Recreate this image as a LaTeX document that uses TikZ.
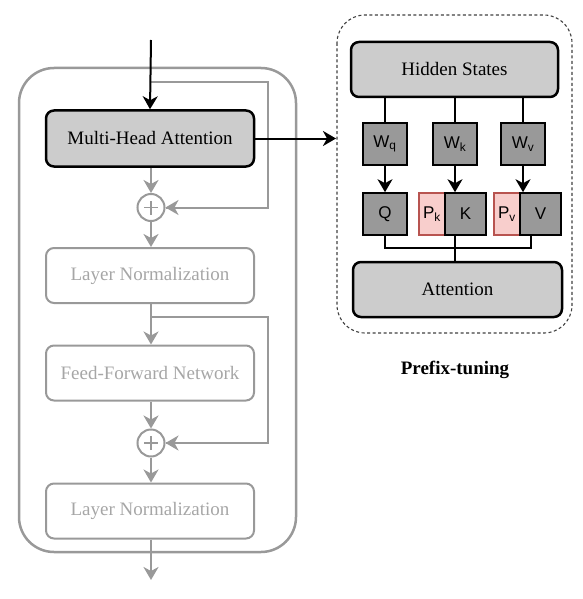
\documentclass[tikz,border=0pt]{standalone}
\usepackage{fontspec}
\setmainfont{Liberation Serif}
\setsansfont{Liberation Sans}
\usetikzlibrary{arrows.meta}
\definecolor{lg}{HTML}{999999}
\definecolor{lgt}{HTML}{A6A6A6}
\definecolor{boxfill}{HTML}{CCCCCC}
\definecolor{wfill}{HTML}{999999}
\definecolor{pfill}{HTML}{F8CECC}
\definecolor{pdraw}{HTML}{B85450}
\tikzset{
  big/.style={font=\fontsize{19}{22}\selectfont},
  blk/.style={big, draw=black, line width=2.5pt, fill=boxfill, rounded corners=8pt, minimum width=208pt, minimum height=56pt, inner sep=0pt},
  gbox/.style={big, draw=lg, text=lgt, line width=2pt, rounded corners=8pt, minimum width=208pt, minimum height=55pt, inner sep=0pt},
  wbox/.style={draw=black, line width=1.6pt, fill=wfill, minimum width=43pt, minimum height=42pt, inner sep=0pt, font=\sffamily\fontsize{17}{20}\selectfont},
  pbox/.style={draw=pdraw, line width=1.6pt, fill=pfill, minimum width=26pt, minimum height=42pt, inner sep=0pt, font=\sffamily\fontsize{17}{20}\selectfont},
  plusc/.style={draw=lg, line width=2pt, circle, minimum size=27pt, inner sep=0pt},
  garr/.style={draw=lg, line width=2pt, -{Stealth[length=13pt,width=15pt,inset=4pt]}},
  gline/.style={draw=lg, line width=2pt},
  karr/.style={draw=black, line width=2pt, -{Stealth[length=13pt,width=15pt,inset=4pt]}},
  kline/.style={draw=black, line width=1.7pt},
}
\begin{document}
\begin{tikzpicture}[x=1pt,y=-1pt]
\useasboundingbox (0,0) rectangle (582,599);
% left encoder block
\draw[lg, line width=2.5pt, rounded corners=35pt] (19,68) rectangle (296,552);
\node[blk] (mha) at (150,138.5) {Multi-Head Attention};
\node[plusc] (p1) at (151,207.5) {};
\node[gbox] (ln1) at (150,275.5) {Layer Normalization};
\node[gbox] (ffn) at (150,373) {Feed-Forward Network};
\node[plusc] (p2) at (151,443) {};
\node[gbox] (ln2) at (150,511) {Layer Normalization};
\foreach \p in {p1,p2}{
  \draw[lg, line width=1.8pt] ([xshift=-7pt]\p.center) -- ([xshift=7pt]\p.center);
  \draw[lg, line width=1.8pt] ([yshift=-7pt]\p.center) -- ([yshift=7pt]\p.center);
}
\coordinate (in) at (151,40);
\coordinate (r1) at (151,82);
\coordinate (r1c) at (268,82);
\coordinate (r2) at (151,317);
\coordinate (r2c) at (268,317);
\coordinate (out) at (151,580);
\draw[gline] (r1) -- (r1c) |- (p1.east);
\draw[garr] (r1c |- p1) -- (p1.east);
\draw[gline] (r2) -- (r2c) |- (p2.east);
\draw[garr] (r2c |- p2) -- (p2.east);
\draw[karr] (in) -- (mha.north);
\draw[garr] (mha.south -| p1) -- (p1.north);
\draw[garr] (p1.south) -- (ln1.north -| p1);
\draw[garr] (ln1.south -| p1) -- (ffn.north -| p1);
\draw[garr] (ffn.south -| p2) -- (p2.north);
\draw[garr] (p2.south) -- (ln2.north -| p2);
\draw[garr] (ln2.south -| p2) -- (out);
% right prefix-tuning block
\draw[black!75, line width=1.1pt, dash pattern=on 3pt off 2.5pt, rounded corners=28pt] (337,15) rectangle (572,333);
\coordinate (pt) at (336,138.5);
\draw[karr] (mha.east) -- (pt);
\node[blk, minimum width=207pt, minimum height=55pt] (hs) at (454.5,69.5) {Hidden States};
\node[wbox, minimum width=44pt] (wq) at (385,144) {W\textsubscript{q}};
\node[wbox, minimum width=44pt] (wk) at (455,144) {W\textsubscript{k}};
\node[wbox, minimum width=44pt] (wv) at (523,144) {W\textsubscript{v}};
\node[wbox, minimum width=44pt] (q) at (385,214) {Q};
\node[pbox] (pk) at (432,214) {P\textsubscript{k}};
\node[wbox, minimum width=41pt] (k) at (465.5,214) {K};
\node[pbox] (pv) at (507,214) {P\textsubscript{v}};
\node[wbox, minimum width=41pt] (v) at (540.5,214) {V};
\node[blk, minimum width=209pt, minimum height=55pt] (att) at (457.5,289.5) {Attention};
\draw[kline] (hs.south -| wq) -- (wq.north);
\draw[kline] (hs.south -| wk) -- (wk.north);
\draw[kline] (hs.south -| wv) -- (wv.north);
\draw[karr] (wq.south) -- (q.north);
\draw[karr] (wk.south) -- (wk.south |- k.north);
\draw[karr] (wv.south) -- (wv.south |- v.north);
\coordinate (jv) at (531,248);
\draw[kline] (q.south) -- (q.south |- jv) -- (jv) -- (jv |- v.south);
\draw[kline] (wk.south |- k.south) -- (wk.south |- att.north);
\node[font=\bfseries\fontsize{19}{22}\selectfont] (title) at (455,370) {Prefix-tuning};
\end{tikzpicture}
\end{document}
